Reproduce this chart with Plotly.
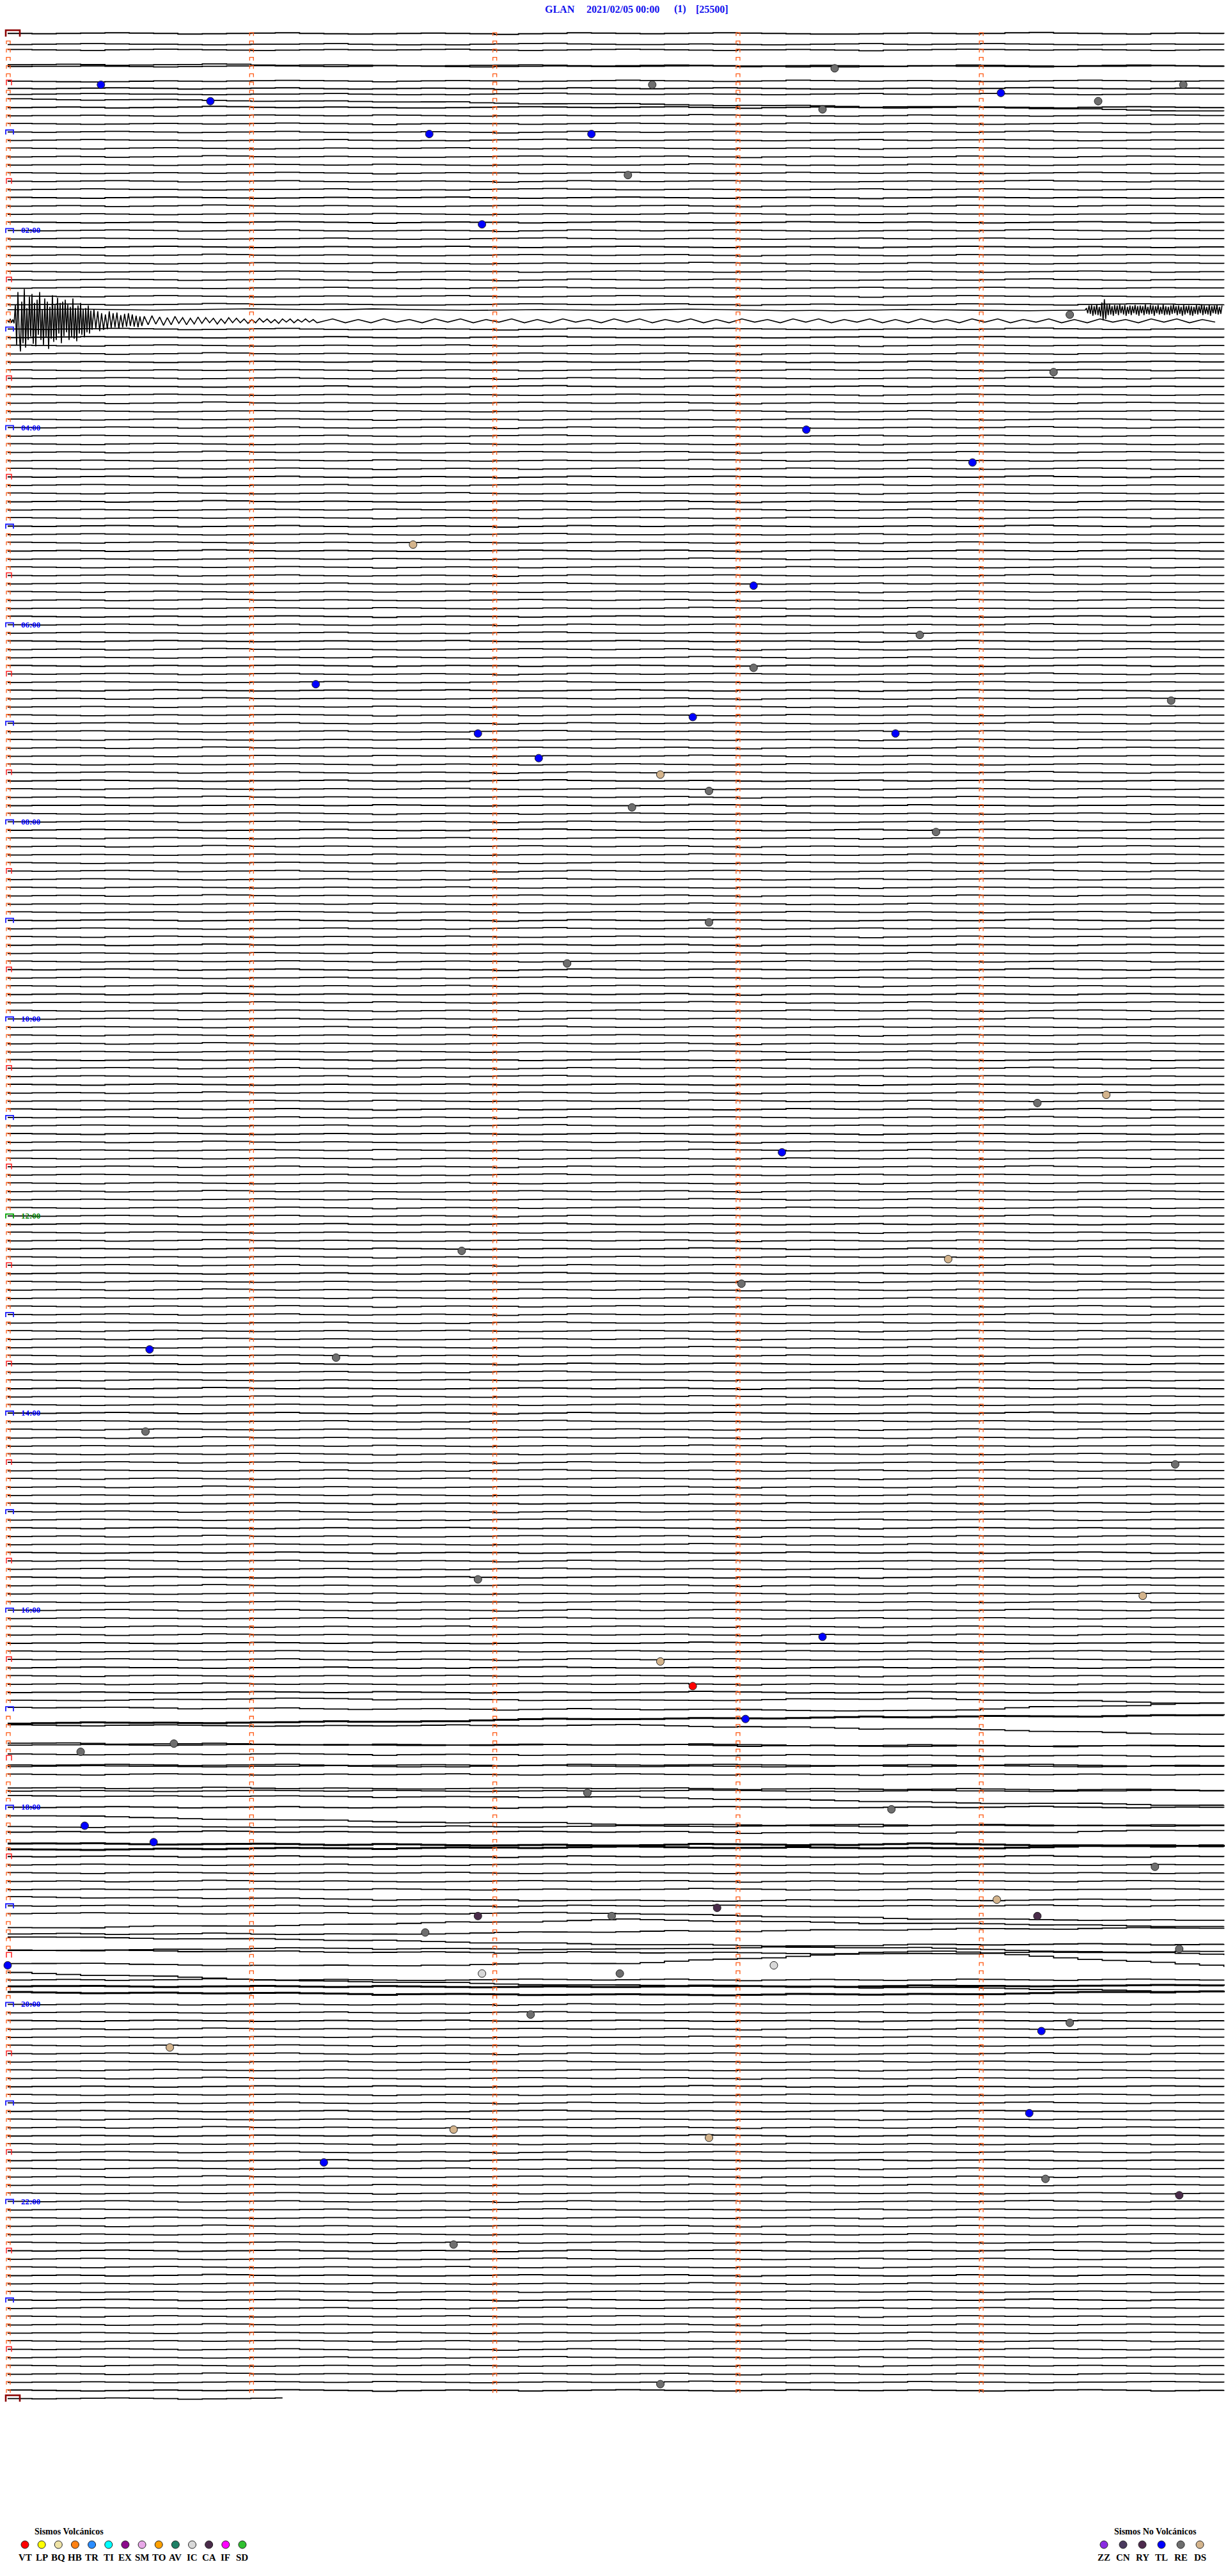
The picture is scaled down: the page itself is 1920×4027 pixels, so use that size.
import numpy as np
import plotly.graph_objects as go

# ---------------- data ----------------
title_parts = ["GLAN", "2021/02/05 00:00", "(1)", "[25500]"]
n_rows = 289              # 5-minute lines, 00:00 .. 24:00
minutes_per_row = 5
last_row_minutes = 1.13   # the final line is only partly drawn
hour_labels = ["02:00", "04:00", "06:00", "08:00", "10:00", "12:00",
               "14:00", "16:00", "18:00", "20:00", "22:00"]

# small wiggle shapes (pixels, + = down) estimated from quiet lines
wiggle_a = [0, 0.5, 0, -0.5, -1, -0.5, 0, 1, 0.5, 0, -0.5, -1, 0, 0.5, 1, 0.5, 0, -0.5, 0, 0.5,
            1.5, 0.5, 0, -1, -0.5, 0, 0.5, 0, -0.5, -1, -0.5, 0, 0.5, 1, 1, 0.5, 0, -0.5, 0, 0.5,
            0, -1, -1.5, -0.5, 0, 0.5, 1, 0, -0.5, 0, 0.5]
wiggle_b = [0.5, 0, -0.5, -1, -0.5, 0, 0, 0.5, 1, 0.5, 0, 0, -0.5, -1, 0, 0.5, 1, 0.5, 1, 0,
            -0.5, -1, -1.5, -0.5, 0, 0.5, 0.5, 0, -0.5, 0, 0.5, 1, 0.5, 0, -0.5, -1, 0, 0.5, 0,
            -0.5, -1, -0.5, 0, 0.5, 1, 0.5, 0, -0.5, 0, 0, 0.5]
wiggle_c = [-0.5, 0, 0.5, 1, 0, -0.5, -1, -0.5, 0, 0.5, 1, 0.5, 0, -0.5, 0, 0.5, 0, -0.5, -1, 0,
            0.5, 1, 0.5, 0, -0.5, -1, -0.5, 0, 0.5, 1, 0, 0, -0.5, 0, 0.5, 1.5, 0.5, 0, -0.5, -1,
            -0.5, 0, 0.5, 0, -0.5, 0, 0.5, 1, 0.5, 0, -0.5]

# baseline drift of particular lines (pixels at 0, 1.25, 2.5, 3.75, 5 min)
row_drift = {
    1: [4, 4, 4, 4, 4], 3: [10, 11, 12, 12, 12], 5: [11, 10, 10, 10, 10], 6: [9, 9, 9, 9, 9],
    7: [5, 5, 5, 5, 5], 8: [0, 3, 8, 12, 19],
    34: [-5, -5, -4, -4, -4],
    203: [0, -3, 0, -3, 5], 204: [-2, 0, 1, 3, -10], 205: [10, 8, 3, 0, -3], 206: [0, 1, 0, 6, 15],
    207: [15, 18, 18, 20, 20], 208: [5, 5, 5, 6, 7], 209: [7, 7, 8, 9, 10], 210: [11, 11, 11, 11, 12],
    213: [8, 9, 9, 10, 12], 215: [-5, -4, -3, 5, 10], 217: [0, 8, 14, 15, 15], 218: [5, 5, 4, 3, 3],
    219: [0, 0, 0, 2, -3], 220: [5, 7, 8, 6, 10], 221: [2, 0, -2, 0, -5],
    227: [-1, 2, 5, 4, 3], 229: [-1, -1, -1, 8, 10], 230: [9, 4, -4, 2, 7], 231: [5, 6, 2, -2, -4],
    232: [-3, 2, 9, 15, 25], 233: [6, 2, 4, -4, -4], 234: [-8, -5, -4, -2, -6], 235: [0, 4, 0, -20, 5],
    236: [2, 15, 22, 25, 32], 238: [-3, -2, -2, -3, -4], 239: [-6, -4, -2, -3, -8],
}
noisy_rows = [205, 220, 221, 238, 239]

# regional earthquake (row 35 = 02:55) and its onset on row 34 (pixels, + = down)
quake_row = 35
quake_a = [0, 2, -3, 3, -2, 4, -25, 38, -45, 20, 48, -30, 35, -50, 42, -20, 30, -38, 25, -42,
           36, -28, 40, -33, 22, -45, 30, -18, 38, -35, 26, -30, 44, -22, 28, -40, 33, -25, 30, -36,
           20, -28, 35, -30, 24, -33, 18, -26, 30, -22, 25, -35, 28, -20, 32, -24, 20, -28, 22, -18,
           26, -20, 18, -24, 20, -16]
quake_a2 = [14, -18, 12, -15, 16, -12, 14, -10, 13, -15, 11, -12, 10, -13, 12, -9, 10, -11, 9, -12,
            8, -10, 9, -8, 10, -7, 8]
quake_b = [-7, 6, -8, 5, -6, 7, -5, 6, -7, 4, -5, 6, -4, 5, -6, 4, -5, 3, -4, 5, -3, 4, -5, 3,
           -4, 3, -3, 4, -2, 3, -4, 2, -3, 3, -2, 4, -3, 2, -3, 3, -2, 2, -3, 2, -2, 3]
quake_c = [2, -3, 3, -2, 3, -3, 2, -2, 3, -3, 2, -3, 3, -2, 2, -3, 3, -2, 3, -3, 2, -2, 3, -3,
           2, -3, 3, -2, 2, -3, 3, -2, 3, -3, 2, -2, 3, -3, 2, -3, 3, -2, 2, -3, 3, -2, 3, -3,
           2, -2, 3, -3, 2, -3, 3, -2, 2, -3, 3, -2, 3, -3, 2, -2, 3, -3, 2, -3, 3, -2, 2]
quake_sec = [(0.0, 0.3155), (20.8, 0.473), (33.7, 0.947), (77.0, 3.155)]  # start, step (s)
onset_row = 34
onset_start_sec = 265.8
onset_step_sec = 0.3155
onset_noise = [0, -3, 5, -7, 6, -8, 9, -6, 7, -9, 8, -5, 10, -12, 16, -17, 14, -9, 8, -10, 7, -6,
               9, -8, 6, -7, 8, -9, 5, -6, 7, -8, 9, -5, 6, -7, 8, -6, 5, -8, 7, -6, 9, -7, 5, -6,
               8, -9, 6, -5, 7, -8, 6, -7, 9, -6, 5, -8, 7, -5, 6, -9, 8, -6, 7, -5, 8, -7, 6, -9,
               5, -6, 8, -7, 6, -5, 9, -8, 7, -6, 5, -7, 8, -6, 9, -5, 6, -8, 7, -6, 5, -9, 8, -7,
               6, -5, 7, -8, 9, -6, 5, -7, 6, -8, 7, -5, 6, -7]

event_times = ["00:30:23", "00:40:50", "00:32:39", "00:23:24", "00:48:21", "00:39:05", "00:44:29", "00:34:50",
               "01:01:44", "01:02:24", "01:27:33", "01:56:57", "02:54:22", "03:29:18", "04:03:17", "04:23:58",
               "05:11:40", "05:38:04", "06:08:45", "06:28:04", "06:36:16", "06:49:47", "06:57:49",
               "07:06:56", "07:08:39", "07:22:11", "07:32:41", "07:42:53", "07:52:34", "08:08:49",
               "09:02:53", "09:27:18", "10:54:14", "10:49:31", "11:23:11",
               "12:21:52", "12:28:52", "12:43:01", "13:20:35", "13:26:21", "14:10:34", "14:34:48",
               "15:41:56", "15:54:40", "16:18:21", "16:32:41", "16:47:49", "17:08:02",
               "17:20:41", "17:25:18", "17:52:23", "18:03:38", "18:10:19", "18:20:36", "18:39:43",
               "18:59:04", "19:02:55", "19:06:56", "19:09:14", "19:07:29", "19:16:43",
               "19:35:00", "19:41:57", "19:42:31", "19:38:09", "19:29:49",
               "20:07:09", "20:14:22", "20:19:15", "20:25:40",
               "21:09:12", "21:16:50", "21:22:53", "21:36:18", "21:49:16", "21:59:49",
               "22:26:50", "23:52:41"]
event_types = ["TL", "TL", "RE", "RE", "RE", "TL", "RE", "RE",
               "TL", "TL", "RE", "TL", "RE", "RE", "TL", "TL",
               "DS", "TL", "RE", "RE", "TL", "RE", "TL",
               "TL", "TL", "TL", "DS", "RE", "RE", "RE",
               "RE", "RE", "RE", "DS", "TL",
               "RE", "DS", "RE", "TL", "RE", "RE", "RE",
               "RE", "DS", "TL", "DS", "VT", "TL",
               "RE", "RE", "RE", "RE", "TL", "TL", "RE",
               "DS", "CA", "CA", "CA", "RE", "RE",
               "TL", "IC", "RE", "IC", "RE",
               "RE", "RE", "TL", "DS",
               "TL", "DS", "DS", "TL", "RE", "CA",
               "RE", "RE"]

volc_codes = ["VT", "LP", "BQ", "HB", "TR", "TI", "EX", "SM", "TO", "AV", "IC", "CA", "IF", "SD"]
volc_colors = ["#ff0000", "#ffff00", "#efe3a6", "#ff8010", "#2a8cff", "#00ffff", "#8b0a8b",
               "#e8a8e8", "#ffa000", "#1f8066", "#d8d8d8", "#4a2c4a", "#ff00ff", "#30c030"]
novolc_codes = ["ZZ", "CN", "RY", "TL", "RE", "DS"]
novolc_colors = ["#8a2be2", "#4a3a5e", "#4d2a4d", "#0000ff", "#6e6e6e", "#d4b48c"]

# ---------------- pixel <-> axis helpers (layout) ----------------
W, H = 1920, 4027
X0, PX_PER_MIN = 12.0, 380.3     # pixel of minute 0, pixels per minute
Y0, PX_PER_ROW = 51.2, 12.838    # pixel of row 0, pixels per row


def X(px):
    return (px - X0) / PX_PER_MIN


def Y(py):
    return (py - Y0) / PX_PER_ROW


BASE = 0.08  # trace baseline below the row grid line

fig = go.Figure()

# ---------------- seismogram lines ----------------
patterns = [wiggle_a, wiggle_b, wiggle_c]
normal_x, normal_y, noisy_x, noisy_y, wave_x, wave_y = [], [], [], [], [], []
for r in range(n_rows):
    pat = patterns[r % 3]
    if (r // 3) % 2:
        pat = pat[::-1]
    kx = np.linspace(0, minutes_per_row, len(pat))
    off = np.array(pat, dtype=float)
    if r in row_drift:
        d = row_drift[r]
        off = off + np.interp(kx, np.linspace(0, minutes_per_row, len(d)), d)
    xs, ys = list(kx), list(off)
    is_wave = False
    if r == quake_row:
        is_wave = True
        xs, ys = [], []
        for seg, (s0, st) in zip([quake_a, quake_a2, quake_b, quake_c], quake_sec):
            for i, v in enumerate(seg):
                xs.append((s0 + i * st) / 60.0)
                ys.append(v)
    if r == onset_row:
        is_wave = True
        cut = onset_start_sec / 60.0
        keep = [i for i, x in enumerate(xs) if x < cut]
        base_off = float(np.interp(cut, kx, off))
        xs = [xs[i] for i in keep]
        ys = [ys[i] for i in keep]
        for i, v in enumerate(onset_noise):
            xs.append((onset_start_sec + i * onset_step_sec) / 60.0)
            ys.append(base_off + v)
    if r == n_rows - 1:
        pairs = [(x, y) for x, y in zip(xs, ys) if x <= last_row_minutes]
        xs = [p[0] for p in pairs] + [last_row_minutes]
        ys = [p[1] for p in pairs] + [pairs[-1][1]]
    yy = [r + BASE + v / PX_PER_ROW for v in ys]
    if is_wave:
        wave_x += xs + [None]
        wave_y += yy + [None]
    elif r in noisy_rows:
        noisy_x += xs + [None]
        noisy_y += yy + [None]
    else:
        normal_x += xs + [None]
        normal_y += yy + [None]

fig.add_trace(go.Scatter(x=normal_x, y=normal_y, mode="lines",
                         line=dict(color="black", width=1.8, shape="hv"), hoverinfo="skip"))
fig.add_trace(go.Scatter(x=noisy_x, y=noisy_y, mode="lines",
                         line=dict(color="black", width=3.0, shape="hv"), hoverinfo="skip"))
fig.add_trace(go.Scatter(x=wave_x, y=wave_y, mode="lines",
                         line=dict(color="black", width=1.6), hoverinfo="skip"))


# ---------------- minute marks (small "⊓" glyphs) ----------------
def glyph_paths(items):
    xs, ys = [], []
    for cx_px, top_off, bot_off, half_w, r in items:
        gy = Y0 + PX_PER_ROW * r
        xl, xr = X(cx_px - half_w), X(cx_px + half_w)
        yt, yb = Y(gy + top_off), Y(gy + bot_off)
        xs += [xl, xl, xr, xr, None]
        ys += [yb, yt, yt, yb, None]
    return xs, ys


small, half, hour, green, day = [], [], [], [], []
for r in range(n_rows):
    if r == n_rows - 1 or r == 0:
        day.append((20, -4, 6, 11, r))
    elif r == 144:
        green.append((15, -2, 5, 6, r))
    elif r % 12 == 0:
        hour.append((15, -2, 5, 6, r))
    elif r % 12 == 6:
        half.append((14, -3, 5, 4, r))
    else:
        small.append((13, 0, 5, 3, r))
    if r < n_rows - 1:
        for c in range(1, 5):
            small.append((X0 + PX_PER_MIN * c + 1, 0, 5, 3, r))

for items, col, w in [(small, "#ff5a14", 1.3), (half, "#ff1e1e", 1.5), (hour, "#1a1aff", 1.8),
                      (green, "#00a000", 1.8), (day, "#8b0000", 2.6)]:
    gx, gyy = glyph_paths(items)
    fig.add_trace(go.Scatter(x=gx, y=gyy, mode="lines", line=dict(color=col, width=w),
                             hoverinfo="skip"))

# ---------------- events ----------------
type_color = dict(zip(volc_codes + novolc_codes, volc_colors + novolc_colors))
ev_x, ev_y, ev_c = [], [], []
for t, ty in zip(event_times, event_types):
    hh, mm, ss = (int(v) for v in t.split(":"))
    m = hh * 60 + mm + ss / 60.0
    row = int(m // minutes_per_row)
    ev_x.append(m - row * minutes_per_row)
    ev_y.append(row + 0.33)
    ev_c.append(type_color[ty])
fig.add_trace(go.Scatter(x=ev_x, y=ev_y, mode="markers",
                         marker=dict(size=12, color=ev_c, line=dict(color="#222222", width=1)),
                         text=event_types, hoverinfo="text"))

# ---------------- text ----------------
ann = []
FONT = "Liberation Serif, Times New Roman, serif"
title_px = [875, 973.5, 1063.5, 1113.5]
for txt, px in zip(title_parts, title_px):
    ann.append(dict(x=X(px), y=Y(14), text="<b>%s</b>" % txt, showarrow=False, xanchor="center",
                    yanchor="middle", font=dict(family=FONT, size=16, color="#1010ee")))
for i, lab in enumerate(hour_labels):
    r = (i + 1) * 24
    ann.append(dict(x=X(31), y=r + 0.05, text="<b>%s</b>" % lab, showarrow=False, xanchor="left",
                    yanchor="middle", font=dict(family=FONT, size=13,
                                                color="#008000" if lab == "12:00" else "#0000ff")))

# legend blocks
ann.append(dict(x=X(108), y=Y(3957), text="<b>Sismos Volcánicos</b>", showarrow=False,
                font=dict(family=FONT, size=14, color="black")))
ann.append(dict(x=X(1806), y=Y(3957), text="<b>Sismos No Volcánicos</b>", showarrow=False,
                font=dict(family=FONT, size=14, color="black")))
lx, ly, lc = [], [], []
for i, (code, col) in enumerate(zip(volc_codes, volc_colors)):
    px = 39 + 26.15 * i
    lx.append(X(px)); ly.append(Y(3978)); lc.append(col)
    ann.append(dict(x=X(px), y=Y(3998), text="<b>%s</b>" % code, showarrow=False,
                    font=dict(family=FONT, size=15, color="black")))
for i, (code, col) in enumerate(zip(novolc_codes, novolc_colors)):
    px = 1726 + 30 * i
    lx.append(X(px)); ly.append(Y(3978)); lc.append(col)
    ann.append(dict(x=X(px), y=Y(3998), text="<b>%s</b>" % code, showarrow=False,
                    font=dict(family=FONT, size=15, color="black")))
fig.add_trace(go.Scatter(x=lx, y=ly, mode="markers",
                         marker=dict(size=12, color=lc, line=dict(color="#222222", width=1)),
                         hoverinfo="skip"))

fig.update_layout(
    width=W, height=H, autosize=False, showlegend=False,
    margin=dict(l=0, r=0, t=0, b=0, pad=0),
    paper_bgcolor="white", plot_bgcolor="white",
    xaxis=dict(range=[X(0), X(W)], visible=False, fixedrange=True),
    yaxis=dict(range=[Y(H), Y(0)], visible=False, fixedrange=True),
    annotations=ann,
)

fig.write_html("out.html", config=dict(displayModeBar=False),
               post_script="document.body.style.margin='0';document.body.style.overflow='hidden';")
